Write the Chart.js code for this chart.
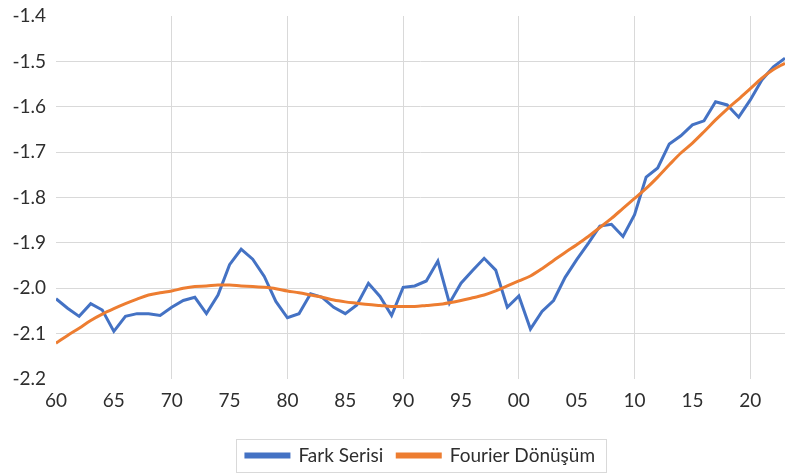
<!DOCTYPE html>
<html lang="tr">
<head>
<meta charset="utf-8">
<title>Fark Serisi ve Fourier Dönüşüm</title>
<script src="https://cdn.jsdelivr.net/npm/chart.js@4.4.1/dist/chart.umd.min.js"></script>
<style>
  html, body { margin: 0; padding: 0; background: #ffffff; }
  #wrap { width: 785px; height: 473px; }
</style>
</head>
<body>
<div id="wrap"><canvas id="chart" width="785" height="473"></canvas></div>
<script>
// yıllar (1960-2023)
const years = [
  1960, 1961, 1962, 1963, 1964, 1965, 1966, 1967, 1968, 1969,
  1970, 1971, 1972, 1973, 1974, 1975, 1976, 1977, 1978, 1979,
  1980, 1981, 1982, 1983, 1984, 1985, 1986, 1987, 1988, 1989,
  1990, 1991, 1992, 1993, 1994, 1995, 1996, 1997, 1998, 1999,
  2000, 2001, 2002, 2003, 2004, 2005, 2006, 2007, 2008, 2009,
  2010, 2011, 2012, 2013, 2014, 2015, 2016, 2017, 2018, 2019,
  2020, 2021, 2022, 2023
];

const farkSerisi = [
  -2.023, -2.044, -2.062, -2.034, -2.048, -2.095, -2.062, -2.056, -2.056, -2.060,
  -2.042, -2.027, -2.020, -2.056, -2.015, -1.948, -1.914, -1.936, -1.974, -2.029,
  -2.065, -2.056, -2.012, -2.020, -2.042, -2.056, -2.037, -1.989, -2.018, -2.060,
  -1.998, -1.995, -1.984, -1.940, -2.033, -1.989, -1.961, -1.934, -1.960, -2.042,
  -2.017, -2.090, -2.051, -2.027, -1.976, -1.937, -1.901, -1.863, -1.859, -1.886,
  -1.838, -1.755, -1.735, -1.682, -1.664, -1.640, -1.631, -1.589, -1.596, -1.623,
  -1.585, -1.541, -1.512, -1.493
];

const fourierDonusum = [
  -2.121, -2.104, -2.088, -2.071, -2.057, -2.045, -2.034, -2.024, -2.015, -2.010,
  -2.006, -2.000, -1.996, -1.995, -1.993, -1.993, -1.995, -1.996, -1.998, -2.001,
  -2.006, -2.010, -2.015, -2.020, -2.026, -2.030, -2.033, -2.036, -2.038, -2.040,
  -2.040, -2.040, -2.038, -2.036, -2.032, -2.027, -2.021, -2.015, -2.006, -1.995,
  -1.984, -1.973, -1.957, -1.939, -1.921, -1.904, -1.886, -1.866, -1.846, -1.824,
  -1.802, -1.780, -1.755, -1.728, -1.702, -1.680, -1.655, -1.629, -1.605, -1.583,
  -1.560, -1.537, -1.518, -1.504
];

// eksen etiketleri
const xTickYears = [1960, 1965, 1970, 1975, 1980, 1985, 1990, 1995, 2000, 2005, 2010, 2015, 2020];
const yTicks = [-2.2, -2.1, -2.0, -1.9, -1.8, -1.7, -1.6, -1.5, -1.4];

const seriesNames = ['Fark Serisi', 'Fourier Dönüşüm'];

document.addEventListener('DOMContentLoaded', function () {
    const textColor = '#2e2e2e';
    const gridColor = '#d9d9d9';
    const font = { family: 'Lato, "Liberation Sans", sans-serif', size: 19 };

    const toPoints = (vals) => vals.map((v, i) => ({ x: years[i], y: v }));

    // lejantı çizim alanına göre ortala ve çerçeve çiz
    const legendFrame = {
        id: 'legendFrame',
        afterLayout(chart) {
            const lg = chart.legend;
            const area = chart.chartArea;
            if (!lg || !area) return;
            lg.left = area.left;
            lg.right = area.right;
            lg.width = lg.right - lg.left;
        },
        afterDraw(chart) {
            const boxes = chart.legend && chart.legend.legendHitBoxes;
            if (!boxes || !boxes.length) return;
            const left = Math.min(...boxes.map(b => b.left)) - 10;
            const right = Math.max(...boxes.map(b => b.left + b.width)) + 11;
            const top = Math.min(...boxes.map(b => b.top)) - 7;
            const bottom = Math.max(...boxes.map(b => b.top + b.height)) + 7;
            const ctx = chart.ctx;
            ctx.save();
            ctx.strokeStyle = '#d9d9d9';
            ctx.lineWidth = 1;
            ctx.strokeRect(Math.round(left) + 0.5, Math.round(top) + 0.5,
                Math.round(right - left), Math.round(bottom - top));
            ctx.restore();
        }
    };

    const ctx = document.getElementById('chart').getContext('2d');
    new Chart(ctx, {
        type: 'line',
        data: {
            datasets: [
                {
                    label: seriesNames[0],
                    data: toPoints(farkSerisi),
                    borderColor: '#4472c4',
                    backgroundColor: '#4472c4',
                    borderWidth: 3,
                    pointRadius: 0,
                    tension: 0,
                    order: 2
                },
                {
                    label: seriesNames[1],
                    data: toPoints(fourierDonusum),
                    borderColor: '#ed7d31',
                    backgroundColor: '#ed7d31',
                    borderWidth: 3,
                    pointRadius: 0,
                    cubicInterpolationMode: 'monotone',
                    order: 1
                }
            ]
        },
        options: {
            responsive: false,
            animation: false,
            layout: { padding: { top: 0, right: 0, left: 0, bottom: -2 } },
            scales: {
                x: {
                    type: 'linear',
                    min: 1960,
                    max: 2023,
                    afterBuildTicks: (scale) => {
                        scale.ticks = xTickYears.map(v => ({ value: v }));
                    },
                    afterFit: (scale) => { scale.height = 53; },
                    ticks: {
                        color: textColor,
                        font: font,
                        padding: 10,
                        maxRotation: 0,
                        callback: (v) => String(v % 100).padStart(2, '0')
                    },
                    grid: {
                        color: (c) => (c.tick && c.tick.value % 10 === 0 && c.tick.value !== 1960) ? gridColor : 'rgba(0,0,0,0)',
                        lineWidth: 1,
                        drawTicks: false
                    },
                    border: { display: false }
                },
                y: {
                    min: -2.2,
                    max: -1.4,
                    afterBuildTicks: (scale) => {
                        scale.ticks = yTicks.map(v => ({ value: v }));
                    },
                    afterFit: (scale) => {
                        scale.width = 56;
                        scale.paddingTop = 16;
                    },
                    ticks: {
                        color: textColor,
                        font: font,
                        padding: 10,
                        callback: (v) => Number(v).toFixed(1)
                    },
                    grid: {
                        color: (c) => (c.index === 0 || c.index === yTicks.length - 1) ? 'rgba(0,0,0,0)' : gridColor,
                        lineWidth: 1,
                        drawTicks: false
                    },
                    border: { display: false }
                }
            },
            plugins: {
                legend: {
                    position: 'bottom',
                    labels: {
                        color: textColor,
                        font: font,
                        boxWidth: 43,
                        boxHeight: 3,
                        padding: 14,
                        sort: (a, b) => a.datasetIndex - b.datasetIndex
                    }
                },
                tooltip: { enabled: false }
            }
        },
        plugins: [legendFrame]
    });
});
</script>
</body>
</html>
